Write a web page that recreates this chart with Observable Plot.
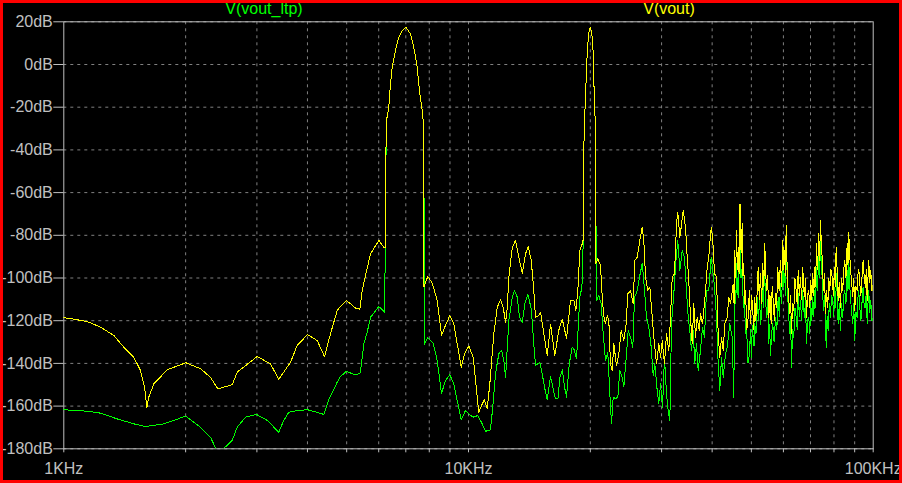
<!DOCTYPE html>
<html><head><meta charset="utf-8">
<script src="https://cdn.jsdelivr.net/npm/d3@7"></script>
<script src="https://cdn.jsdelivr.net/npm/@observablehq/plot@0.6"></script>
<style>
html,body{margin:0;padding:0;background:#000;}
#wrap{position:relative;width:902px;height:483px;background:#000;overflow:hidden;}
#chart{position:absolute;left:0;top:0;}
#border{position:absolute;left:0;top:0;width:902px;height:483px;box-sizing:border-box;border:3px solid #ff0000;pointer-events:none;}
.lbl{position:absolute;top:0px;font-family:"Liberation Sans",Arial,sans-serif;font-size:16px;line-height:18px;white-space:nowrap;transform:translateX(-50%);}
</style></head><body>
<div id="wrap"><div id="chart"></div>
<div class="lbl" style="left:264px;color:#00ff00">V(vout_ltp)</div>
<div class="lbl" style="left:669px;color:#ffff00">V(vout)</div>
<div id="border"></div></div>
<script>
// Trace names
const traceNames = ["V(vout_ltp)", "V(vout)"];
// Axis ticks
const yTicks = [20, 0, -20, -40, -60, -80, -100, -120, -140, -160, -180];
const xLabelTicks = [1, 10, 100]; // kHz
const xGridTicks = [2, 3, 4, 5, 6, 7, 8, 9, 10, 20, 30, 40, 50, 60, 70, 80, 90];

// V(vout_ltp) : [frequency kHz, dB]
const voutLtp = [
[1.000,-161.7],[1.143,-162.4],[1.232,-163.3],[1.355,-166.0],[1.489,-168.3],[1.592,-169.6],[1.767,-168.3],[1.870,-166.7],[1.999,-164.7],[2.177,-169.9],[2.304,-174.6],[2.384,-180.5],[2.463,-180.5],[2.607,-176.1],[2.682,-169.9],[2.812,-165.2],[2.994,-163.9],[3.181,-166.7],[3.398,-172.2],[3.496,-166.7],[3.597,-162.9],[3.773,-162.1],[4.001,-161.7],[4.228,-162.9],[4.390,-163.9],[4.517,-157.0],[4.738,-148.8],[4.828,-146.1],[4.995,-143.7],[5.207,-145.2],[5.388,-144.9],[5.440,-140.2],[5.512,-130.8],[5.619,-125.4],[5.727,-118.4],[6.004,-113.4],[6.211,-116.0],[6.236,-60],[6.271,-26.3],[6.354,-20.0],[6.416,-9.0],[6.478,-1.3],[6.601,6.6],[6.726,12.8],[6.857,15.9],[7.000,17.5],[7.189,14.4],[7.325,8.1],[7.468,-1.3],[7.580,-13.7],[7.684,-21.5],[7.728,-26.2],[7.763,-60],[7.785,-131.1],[7.933,-128.0],[8.181,-130.5],[8.368,-138.6],[8.576,-154.0],[8.773,-148.0],[8.990,-145.3],[9.198,-149.6],[9.378,-157.4],[9.593,-166.3],[9.831,-162.1],[10.11,-164.4],[10.31,-165.2],[10.54,-164.4],[10.81,-168.3],[11.02,-171.8],[11.33,-171.1],[11.48,-160.5],[11.66,-144.9],[11.88,-135.5],[12.07,-133.9],[12.23,-138.6],[12.35,-146.5],[12.47,-132.4],[12.58,-119.9],[12.83,-109.0],[12.99,-105.9],[13.20,-109.0],[13.37,-118.4],[13.58,-120.7],[13.78,-112.1],[14.02,-107.7],[14.29,-114.4],[14.50,-130.8],[14.64,-141.0],[15.01,-139.4],[15.21,-144.9],[15.41,-151.1],[15.65,-157.0],[15.95,-146.1],[16.25,-153.5],[16.41,-156.6],[16.63,-156.6],[16.82,-146.5],[17.05,-143.0],[17.27,-151.1],[17.47,-155.8],[17.74,-140.2],[18.04,-132.4],[18.21,-133.2],[18.49,-137.9],[18.63,-126.1],[18.84,-109.0],[18.99,-105.9],[19.16,-100],[19.27,-40],[19.35,-26.3],[19.49,-12.2],[19.57,-1.3],[19.72,9.7],[19.87,15.9],[19.99,17.5],[20.14,15.1],[20.29,9.7],[20.40,-7.5],[20.56,-26.3],[20.63,-60],[20.72,-110.5],[20.99,-108.2],[21.28,-112.1],[21.52,-126.1],[21.80,-138.6],[22.09,-134.7],[22.35,-154.2],[22.56,-168.3],[22.78,-155.8],[23.08,-156.6],[23.39,-155.8],[23.65,-143.3],[23.98,-146.5],[24.20,-151.1],[24.57,-135.5],[24.81,-124.6],[25.14,-127.7],[25.47,-132.4],[25.72,-109.0],[26.12,-105.9],[26.46,-99.6],[26.87,-93.1],[27.11,-101.2],[27.53,-118.4],[27.90,-123.0],[28.28,-132.4],[28.60,-145.7],[28.87,-140.2],[29.26,-152.7],[29.53,-158.9],[29.82,-149.6],[30.16,-160.5],[30.50,-137.1],[30.85,-154.2],[31.15,-162.1],[31.44,-166.8],[31.74,-121.5],[32.16,-107.4],[32.60,-90.3],[32.90,-82.4],[33.28,-96.6],[33.73,-87.1],[34.18,-90.3],[34.57,-105.9],[34.91,-118.4],[35.22,-124.6],[35.57,-133.9],[35.91,-124.6],[36.24,-140.2],[36.59,-130.8],[36.95,-143.3],[37.43,-133.9],[37.86,-123.0],[38.30,-127.7],[38.73,-105.9],[39.24,-105.9],[39.78,-90.3],[40.15,-96.6],[40.54,-104.3],[41.00,-118.4],[41.40,-140.2],[41.78,-152.7],[42.18,-137.1],[42.59,-146.5],[43.16,-135.5],[43.57,-132.4],[44.22,-121.5],[44.83,-127.7],
[45.24,-155.8],[45.42,-118],[45.60,-105.9],[45.77,-112],[45.94,-93.4],[46.16,-104],[46.39,-109.0],[46.60,-96],[46.81,-80.9],[47.13,-100],[47.46,-95.0],[47.77,-114],[48.08,-110.5],[48.35,-126],[48.63,-123.0],[49.05,-140],[49.47,-135.5],[49.75,-124],[50.03,-137.1],[50.27,-122],[50.52,-127.7],[50.75,-132],[50.98,-121.5],[51.33,-126],[51.68,-109.0],[52.02,-120],[52.36,-110.5],[52.76,-122],[53.17,-104.3],[53.52,-114],[53.87,-96.6],[54.18,-108],[54.49,-118.4],[54.84,-110],[55.20,-130.8],[55.47,-122],[55.74,-136.3],[56.10,-126],[56.47,-121.5],[56.91,-130],[57.35,-118.4],[57.80,-124],[58.24,-109.0],[58.62,-118],[59.00,-102.8],[59.39,-112],[59.78,-93.4],[60.12,-104],[60.46,-98.0],[60.75,-108],[61.05,-84.0],[61.34,-100],[61.64,-113.7],[61.92,-120],[62.21,-126.1],[62.51,-118],[62.81,-141.8],[63.22,-124],[63.64,-127.7],[64.07,-114],[64.51,-118.4],[64.88,-124],[65.25,-107.4],[65.68,-118],[66.11,-110.5],[66.54,-120],[66.98,-105.9],[67.30,-114],[67.63,-118.4],[68.02,-110],[68.41,-130.8],[68.86,-120],[69.31,-118.4],[69.70,-126],[70.10,-112.1],[70.50,-120],[70.90,-109.0],[71.30,-118],[71.71,-105.9],[72.06,-114],[72.41,-95.0],[72.88,-106],[73.36,-85.6],[73.72,-100],[74.08,-82.4],[74.44,-94],[74.80,-99.6],[75.14,-110],[75.48,-115.2],[76.00,-108],[76.52,-132.4],[76.95,-118],[77.39,-124.6],[77.90,-112],[78.41,-118.4],[78.92,-108],[79.44,-110.5],[79.90,-118],[80.35,-104.3],[80.74,-114],[81.13,-98.0],[81.52,-108],[81.92,-121.5],[82.46,-112],[83.00,-124.6],[83.54,-112],[84.09,-118.4],[84.57,-108],[85.06,-105.9],[85.64,-112],[86.23,-96.6],[86.62,-106],[87.01,-91.8],[87.43,-102],[87.86,-109.0],[88.44,-116],[89.02,-121.5],[89.52,-112],[90.03,-129.3],[90.65,-116],[91.27,-118.4],[91.87,-106],[92.48,-109.0],[93.01,-120],[93.54,-118.4],[93.99,-108],[94.44,-104.3],[95.06,-114],[95.69,-113.7],[96.15,-106],[96.62,-121.5],[97.06,-112],[97.50,-105.9],[98.06,-116],[98.62,-110.5],[99.30,-120],[100.0,-118.4]
];

// V(vout) : [frequency kHz, dB]
const vout = [
[1.000,-118.6],[1.059,-119.3],[1.143,-120.4],[1.232,-123.0],[1.329,-126.9],[1.407,-132.4],[1.489,-137.1],[1.547,-143.3],[1.583,-151.1],[1.604,-160.8],[1.622,-155.8],[1.669,-149.6],[1.801,-143.0],[2.002,-139.7],[2.177,-142.5],[2.304,-146.5],[2.402,-151.9],[2.607,-150.0],[2.682,-144.1],[3.005,-136.8],[3.242,-140.2],[3.398,-147.5],[3.633,-139.4],[3.773,-131.6],[4.001,-126.5],[4.228,-129.3],[4.407,-136.8],[4.561,-126.1],[4.738,-115.2],[4.828,-113.3],[4.995,-110.6],[5.110,-112.1],[5.257,-114.1],[5.388,-114.6],[5.462,-105.9],[5.565,-98.8],[5.727,-88.7],[6.004,-82.4],[6.176,-85.6],[6.236,-85.6],[6.246,-45],[6.271,-26.3],[6.354,-20.0],[6.416,-9.0],[6.478,-1.3],[6.601,6.6],[6.726,12.8],[6.857,15.9],[7.000,17.5],[7.189,14.4],[7.325,8.1],[7.468,-1.3],[7.580,-13.7],[7.684,-21.5],[7.728,-26.2],[7.741,-60],[7.763,-104.0],[7.933,-99.3],[8.134,-102.4],[8.368,-110.5],[8.576,-126.9],[8.773,-122.2],[8.990,-117.6],[9.198,-121.5],[9.378,-130.8],[9.593,-141.8],[9.775,-135.5],[10.02,-131.9],[10.27,-137.1],[10.47,-152.7],[10.60,-162.9],[10.77,-159.7],[10.95,-157.0],[11.12,-161.3],[11.29,-149.6],[11.55,-126.1],[11.78,-113.7],[12.00,-110.0],[12.18,-113.7],[12.35,-120.7],[12.47,-113.7],[12.58,-99.6],[12.83,-85.6],[13.07,-82.4],[13.32,-90.3],[13.58,-97.8],[13.83,-88.7],[14.05,-85.2],[14.29,-91.8],[14.50,-105.9],[14.64,-118.4],[14.92,-117.6],[15.07,-116.0],[15.35,-126.1],[15.65,-136.3],[15.95,-121.6],[16.34,-136.3],[16.72,-124.4],[17.05,-119.3],[17.47,-128.3],[17.87,-110.5],[18.21,-110.5],[18.42,-115.2],[18.63,-105.9],[18.84,-87.1],[19.10,-84.0],[19.21,-82],[19.27,-40],[19.35,-26.3],[19.49,-12.2],[19.57,-1.3],[19.72,9.7],[19.87,15.9],[19.99,17.5],[20.14,15.1],[20.29,9.7],[20.40,-7.5],[20.56,-26.3],[20.63,-93.4],[20.87,-91.0],[21.19,-94.1],[21.40,-108.9],[21.59,-117.6],[21.80,-121.5],[22.02,-117.6],[22.22,-119.9],[22.43,-140.2],[22.65,-143.3],[22.86,-130.8],[23.21,-141.0],[23.52,-135.5],[23.84,-124.6],[24.20,-129.3],[24.53,-121.5],[24.75,-107.4],[25.14,-105.9],[25.53,-112.1],[25.76,-91.8],[26.12,-90.3],[26.50,-82.4],[26.87,-76.2],[27.11,-82.4],[27.38,-99.6],[27.74,-105.9],[28.06,-104.3],[28.28,-112.1],[28.70,-127.7],[29.15,-140.2],[29.53,-130.8],[29.82,-137.1],[30.11,-129.3],[30.50,-140.2],[30.85,-126.1],[31.26,-133.9],[31.56,-118.4],[31.87,-99.6],[32.29,-98.0],[32.66,-74.6],[32.90,-69.2],[33.28,-80.9],[33.54,-76.2],[33.93,-68.4],[34.37,-76.2],[34.71,-90.3],[35.02,-101.2],[35.36,-118.4],[35.71,-130.8],[36.03,-112.1],[36.38,-127.7],[36.74,-118.4],[37.16,-124.6],[37.43,-116.8],[37.86,-121.5],[38.36,-110.5],[38.89,-95.0],[39.24,-90.3],[39.63,-79.3],[39.85,-76.2],[40.24,-85.6],[40.54,-98.0],[41.00,-99.6],[41.40,-126.1],[41.78,-137.1],[42.18,-127.7],[42.59,-133.9],[42.98,-121.5],[43.57,-118.4],[43.97,-108.9],[44.40,-112.1],
[45.09,-102.8],[45.30,-112],[45.50,-87.1],[45.72,-100],[45.94,-77.8],[46.16,-96],[46.39,-85.6],[46.62,-98],[46.87,-65.2],[47.15,-88],[47.46,-74.6],[47.67,-99],[47.89,-93.4],[48.12,-112],[48.36,-105.9],[48.73,-124],[49.10,-118.4],[49.42,-106],[49.75,-121.5],[50.07,-108],[50.40,-115.2],[50.69,-124],[50.98,-108.9],[51.22,-120],[51.47,-115.2],[51.72,-104],[51.97,-95.0],[52.31,-110],[52.66,-98.0],[53.00,-112],[53.35,-93.4],[53.65,-104],[53.96,-84.0],[54.22,-96],[54.49,-105.9],[54.84,-99],[55.20,-118.4],[55.58,-108],[55.96,-121.5],[56.28,-104],[56.60,-110.5],[56.97,-120],[57.35,-107.4],[57.72,-114],[58.10,-95.0],[58.55,-106],[59.00,-91.8],[59.39,-104],[59.78,-82.4],[60.12,-96],[60.46,-87.1],[60.70,-99],[60.95,-75.4],[61.22,-92],[61.50,-102.8],[61.85,-110],[62.21,-116.8],[62.51,-108],[62.81,-126.1],[63.22,-112],[63.64,-115.2],[64.07,-100],[64.51,-105.9],[64.88,-112],[65.25,-96.6],[65.68,-108],[66.11,-99.6],[66.54,-110],[66.98,-95.0],[67.30,-104],[67.63,-108.9],[68.02,-100],[68.41,-118.4],[68.86,-108],[69.31,-105.9],[69.70,-114],[70.10,-101.2],[70.50,-110],[70.90,-98.0],[71.30,-108],[71.71,-95.0],[72.06,-104],[72.41,-84.0],[72.88,-96],[73.36,-79.3],[73.72,-92],[74.08,-73.1],[74.44,-84],[74.80,-90.3],[75.14,-100],[75.48,-105.9],[75.84,-98],[76.21,-116.8],[76.71,-106],[77.22,-113.7],[77.66,-100],[78.10,-105.9],[78.63,-96],[79.17,-99.6],[79.70,-108],[80.22,-95.0],[80.60,-104],[80.99,-85.6],[81.45,-96],[81.92,-110.5],[82.46,-102],[83.00,-113.7],[83.54,-100],[84.09,-105.9],[84.57,-96],[85.06,-91.8],[85.64,-100],[86.23,-84.0],[86.62,-94],[87.01,-78.6],[87.43,-88],[87.86,-95.0],[88.44,-102],[89.02,-108.9],[89.52,-100],[90.03,-115.2],[90.65,-104],[91.27,-105.9],[91.87,-96],[92.48,-98.0],[93.01,-108],[93.54,-105.9],[93.99,-96],[94.44,-91.8],[95.06,-100],[95.69,-104.3],[96.15,-96],[96.62,-110.5],[97.06,-100],[97.50,-91.8],[98.06,-102],[98.62,-96.6],[99.30,-106],[100.0,-102.8]
];

const toRows = (pts) => pts.map(([f, db]) => ({f, db}));
const ltpRows = toRows(voutLtp);
const voutRows = toRows(vout);

const gridStyle = {stroke: "#808080", strokeOpacity: 1, strokeDasharray: "3,4", strokeWidth: 1};

const chart = Plot.plot({
  width: 902,
  height: 483,
  marginLeft: 63.3,
  marginRight: 29.3,
  marginTop: 21.3,
  marginBottom: 34.7,
  style: {background: "#000", color: "#c0c0c0", fontFamily: '"Liberation Sans", Arial, sans-serif', fontSize: "16px", overflow: "visible"},
  x: {type: "log", domain: [1, 100]},
  y: {domain: [-180, 20]},
  marks: [
    Plot.gridX({ticks: xGridTicks, ...gridStyle}),
    Plot.gridY({ticks: yTicks, ...gridStyle}),
    Plot.axisY({ticks: yTicks, tickSize: 10, tickPadding: 1, tickFormat: d => `${d}dB`, label: null, strokeOpacity: 1}),
    Plot.axisX({ticks: [1, ...xGridTicks, 100], tickSize: 4, tickFormat: () => "", label: null}),
    Plot.axisX({ticks: xLabelTicks, tickSize: 0, tickPadding: 14, tickFormat: d => `${d}KHz`, label: null}),
    Plot.frame({stroke: "#c0c0c0", strokeWidth: 1}),
    Plot.line(ltpRows, {x: "f", y: "db", stroke: "#00ff00", strokeWidth: 1, clip: true, shapeRendering: "crispEdges", title: () => traceNames[0]}),
    Plot.line(voutRows, {x: "f", y: "db", stroke: "#ffff00", strokeWidth: 1, clip: true, shapeRendering: "crispEdges", title: () => traceNames[1]})
  ]
});
document.getElementById("chart").appendChild(chart);
</script>
</body></html>
